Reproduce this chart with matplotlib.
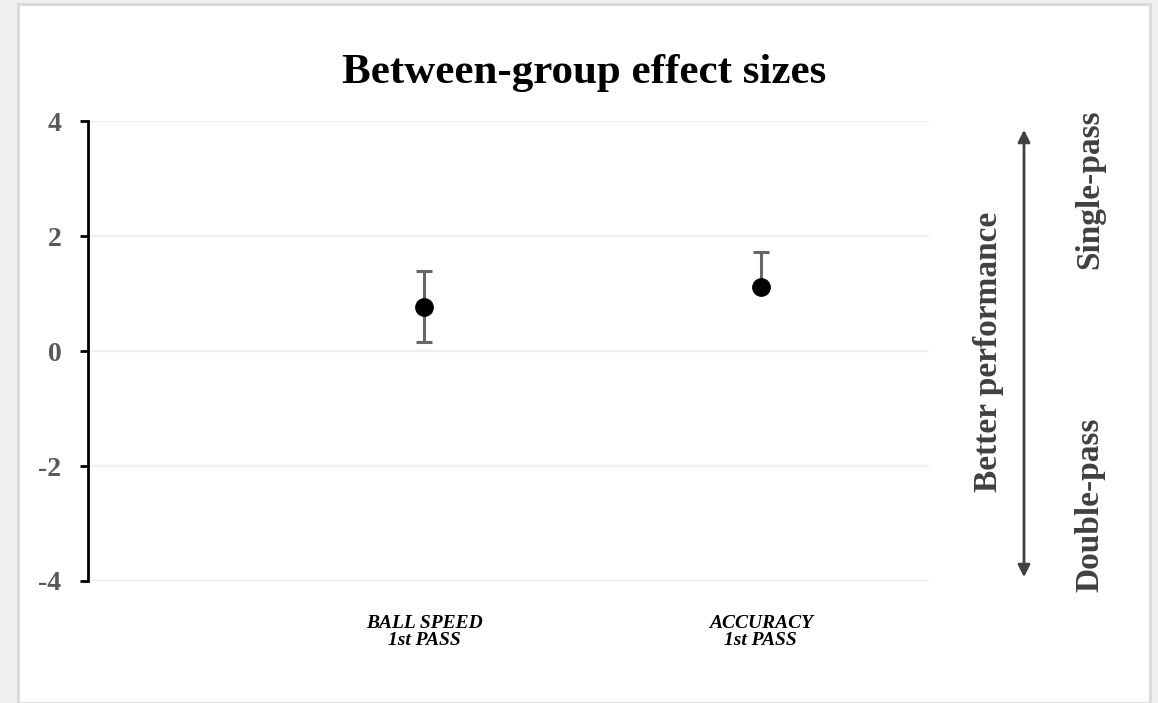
import numpy as np
import matplotlib.pyplot as plt
from matplotlib.patches import Rectangle, FancyArrowPatch

# effect sizes with confidence limits
outcomes = ["BALL SPEED\n1st PASS", "ACCURACY\n1st PASS"]
effect = np.array([0.77, 1.12])
upper = np.array([1.40, 1.72])
lower = np.array([0.15, 1.07])
yticks = [-4, -2, 0, 2, 4]

plt.rcParams['font.family'] = ['Liberation Serif', 'DejaVu Serif']

W, H = 1158, 703
fig = plt.figure(figsize=(W / 100, H / 100), dpi=100)
fig.patch.set_facecolor('#f0f0f0')

# white card with a thin border
card = Rectangle((18 / W, 0), (1150 - 18) / W, 1 - 4 / H, transform=fig.transFigure,
                 facecolor='white', edgecolor='#d9d9d9', linewidth=2, zorder=-1)
fig.patches.append(card)

ax = fig.add_axes([88 / W, 1 - 581 / H, (929 - 88) / W, (581 - 121) / H])
ax.set_facecolor('none')

xpos = np.arange(1, len(effect) + 1)
ax.errorbar(xpos, effect, yerr=[effect - lower, upper - effect], fmt='none',
            ecolor='#666666', elinewidth=2.2, capsize=5.5, capthick=2.2, zorder=2)
ax.plot(xpos, effect, 'o', color='black', markersize=12.5, zorder=3)

ax.set_xlim(0, 2.5)
ax.set_ylim(-4, 4)
ax.set_yticks(yticks)
ax.set_yticklabels([str(v) for v in yticks], fontsize=20, fontweight='bold', color='#595959')
ax.set_xticks([])
ax.grid(axis='y', color='#efefef', linewidth=1.6, zorder=0)
ax.set_axisbelow(True)

for s in ['top', 'right', 'bottom']:
    ax.spines[s].set_visible(False)
ax.spines['left'].set_linewidth(2)
ax.spines['left'].set_color('black')
ax.tick_params(axis='y', length=6, width=2, color='black', pad=13)

# category labels below the axis
for x, lab in zip(xpos, outcomes):
    ax.text(x, -4.6, lab, ha='center', va='top', fontsize=14, linespacing=0.95,
            fontstyle='italic', fontweight='bold', clip_on=False)

fig.text(0.504, 1 - 73 / H, "Between-group effect sizes", ha='center', va='center',
         fontsize=31, fontweight='bold')

# direction annotation on the right
arrow = FancyArrowPatch((1024 / W, 1 - 580 / H), (1024 / W, 1 - 127 / H),
                        transform=fig.transFigure, arrowstyle='<|-|>', mutation_scale=18,
                        color='#404040', linewidth=2)
fig.patches.append(arrow)
fig.text(988 / W, 1 - 352 / H, "Better performance", rotation=90, ha='center', va='center',
         fontsize=24, fontweight='bold', color='#404040')
fig.text(1090 / W, 1 - 189 / H, "Single-pass", rotation=90, ha='center', va='center',
         fontsize=24, fontweight='bold', color='#404040')
fig.text(1090 / W, 1 - 505 / H, "Double-pass", rotation=90, ha='center', va='center',
         fontsize=24, fontweight='bold', color='#404040')

fig.savefig("out.png", dpi=100)
